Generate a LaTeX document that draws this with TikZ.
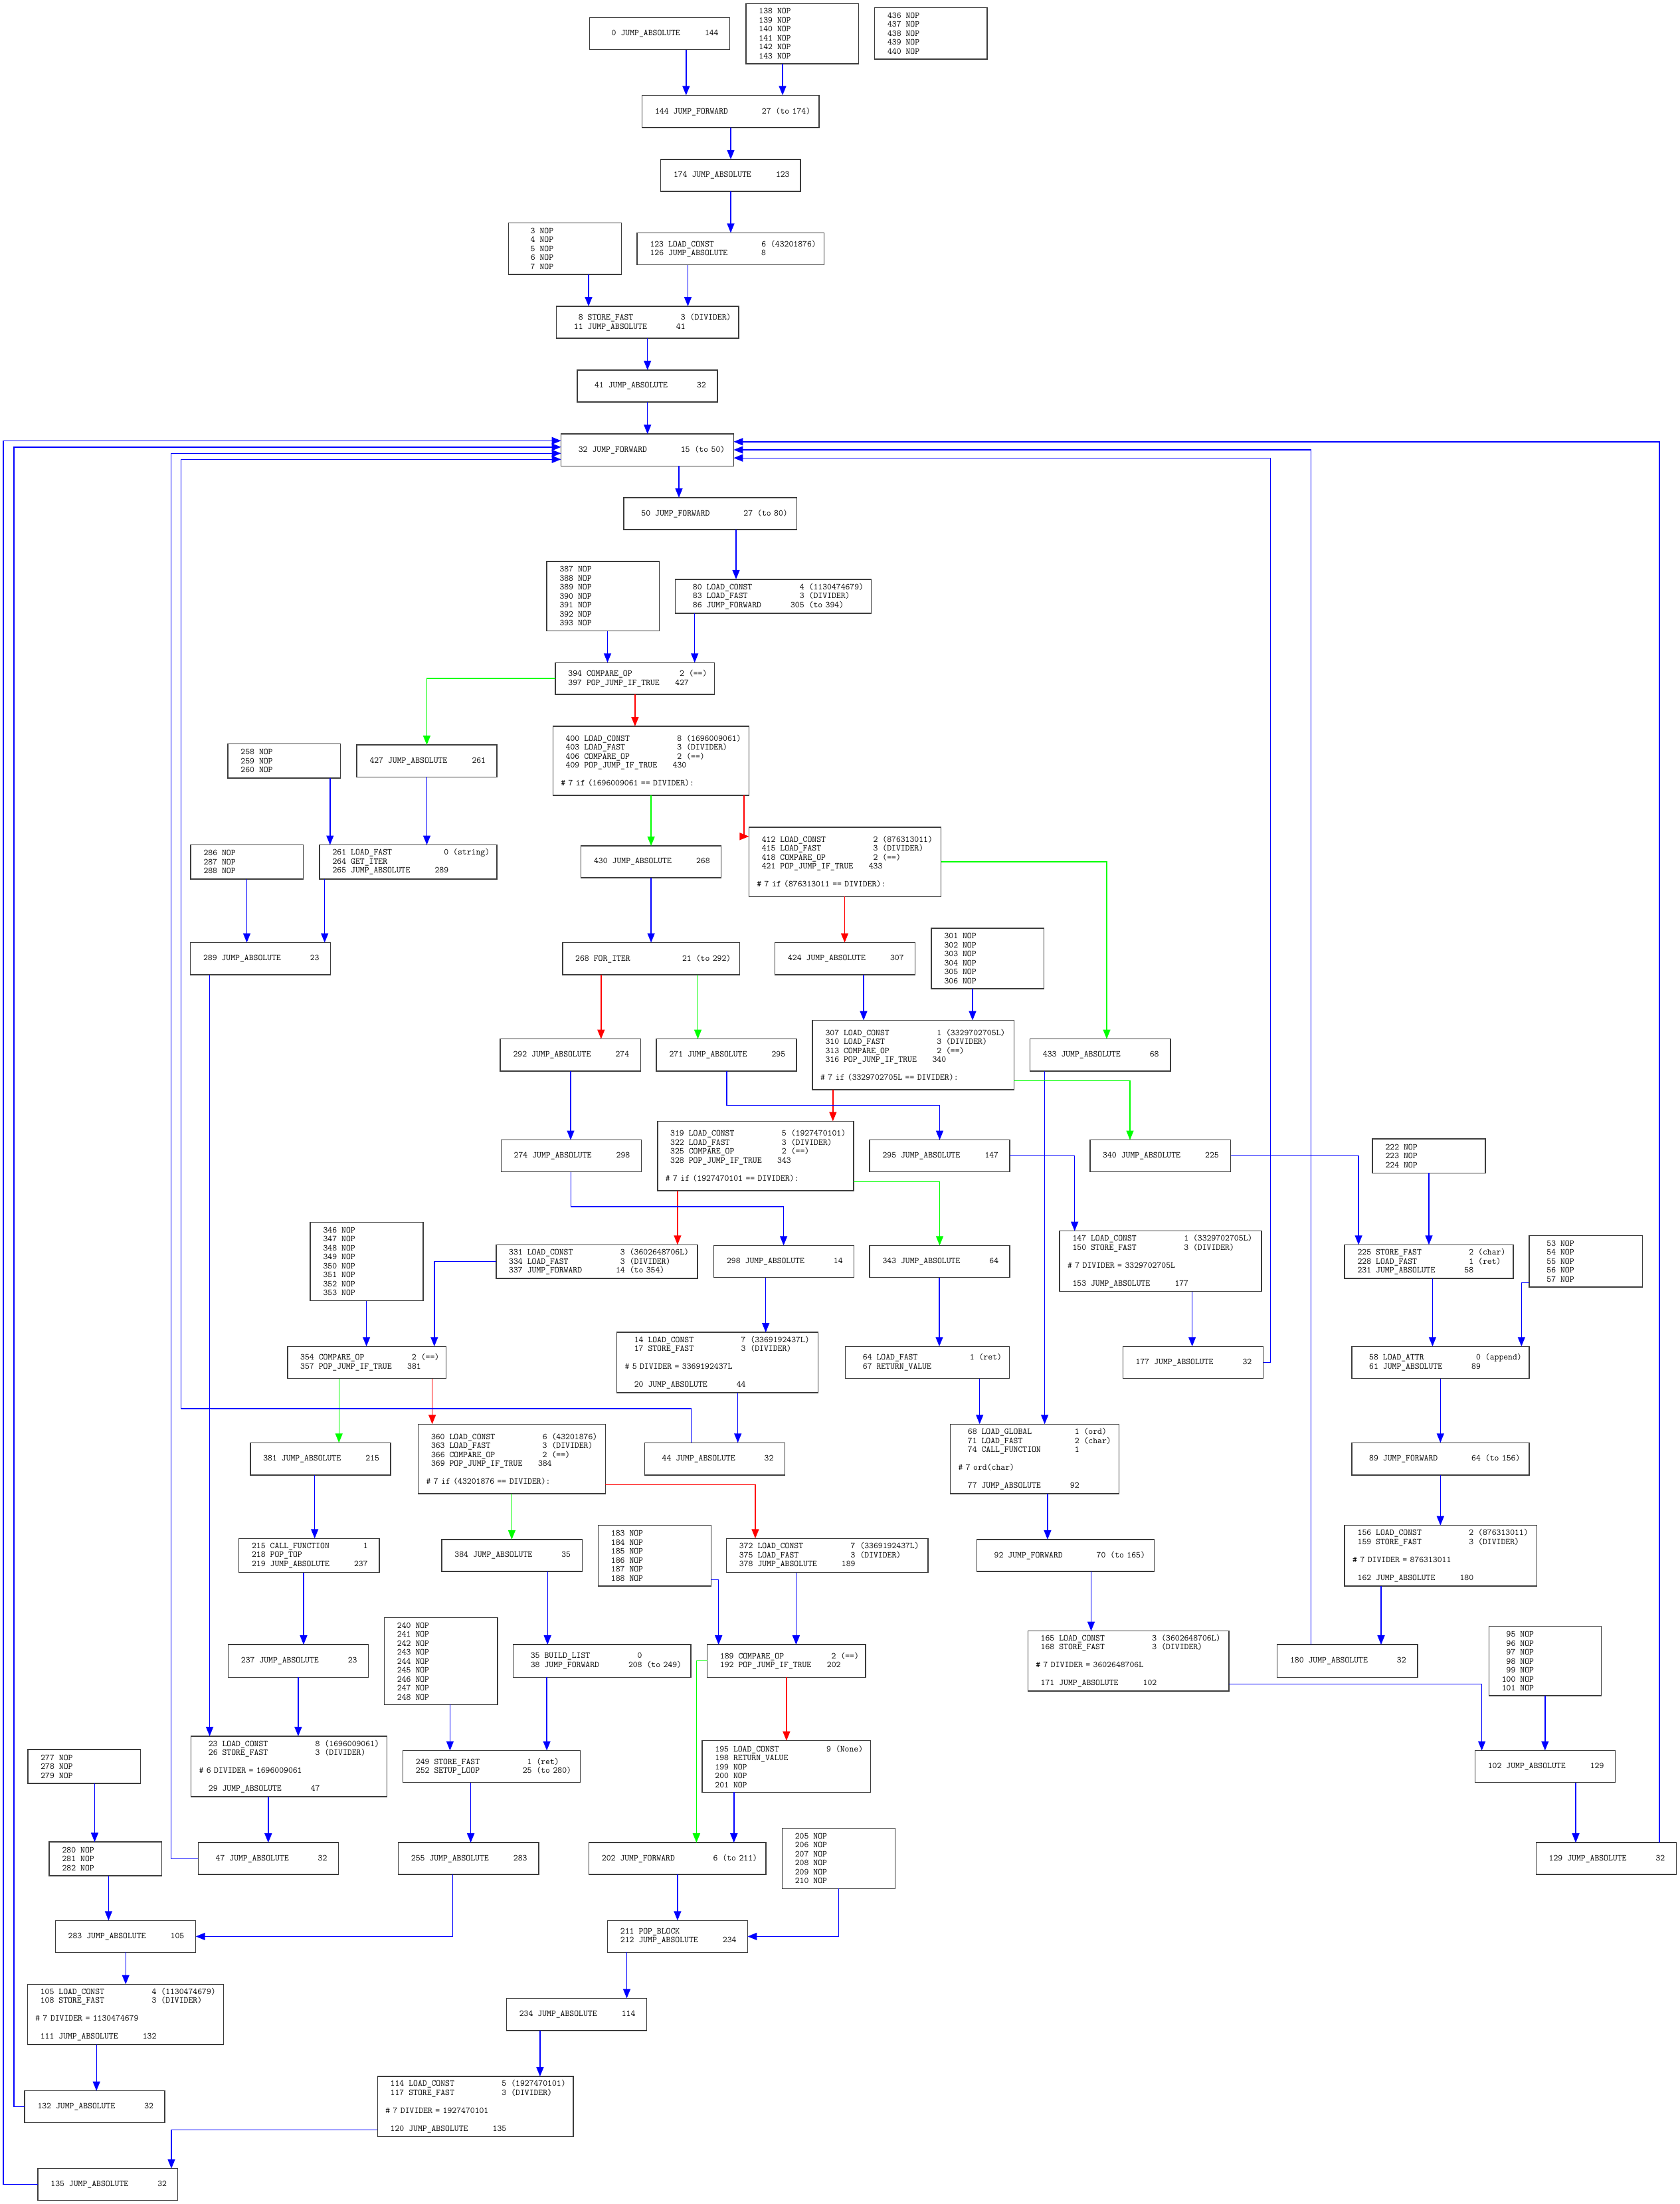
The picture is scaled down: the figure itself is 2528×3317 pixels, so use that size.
\documentclass[tikz,border=0pt]{standalone}
\usetikzlibrary{arrows.meta}
\definecolor{eblue}{RGB}{0,0,255}
\definecolor{egreen}{RGB}{0,255,0}
\definecolor{ered}{RGB}{255,0,0}
\definecolor{boxc}{RGB}{60,60,60}
\newlength\chw
\setlength\chw{7pt}
% one disassembly line: offset, opcode, argument, description
\newcommand\dOf[1]{\makebox[4\chw][r]{#1}\hspace*{\chw}}
\newcommand\dOp[4]{\mbox{\dOf{#1}\hbox to 21\chw{#2\hfill#3}\hspace*{\chw}(#4)}}
\newcommand\dOpA[3]{\mbox{\dOf{#1}\hbox to 21\chw{#2\hfill#3}}}
\newcommand\dOpN[2]{\mbox{\dOf{#1}#2}}
\newcommand\dOpJ[2]{\mbox{\dOf{#1}\hbox to 22\chw{POP\_JUMP\_IF\_TRUE\hfill#2}}}
\newcommand\dNop[1]{\mbox{\dOf{#1}NOP}}
\newcommand\dCm[1]{\mbox{\#~#1}}
\newcommand\dFont{\fontsize{13.33pt}{13.5pt}\selectfont\ttfamily\frenchspacing}
% block given by its corners (left, top, right, bottom)
\newcommand\blockbox[6]{%
  \pgfmathsetmacro\bxw{#4-#2-24}%
  \pgfmathsetmacro\bxh{#5-#3}%
  \node[blk, text width=\bxw pt, minimum height=\bxh pt] (#1) at (#2,#3) {#6};}
% straight vertical connector at a given x
\newcommand\vE[4]{\draw[#1] (#2.south -| #4,0) -- (#3.north -| #4,0);}
\tikzset{
  blk/.style={draw=boxc, line width=1.5pt, rectangle, inner xsep=12pt, inner ysep=0pt,
    outer sep=0pt, anchor=north west, align=left, font=\dFont},
  edge/.style={line width=1.4pt, -{Triangle[length=14pt,width=11pt]}},
  eb/.style={edge, draw=eblue},
  eg/.style={edge, draw=egreen},
  er/.style={edge, draw=ered},
}
\begin{document}
\begin{tikzpicture}[x=1pt,y=-1pt]
\fill[white] (0,0) rectangle (2528,3317);
\useasboundingbox (0,0) rectangle (2528,3317);

\blockbox{n0}{887.6}{26.5}{1098.4}{74.6}{\dOpA{0}{JUMP\_ABSOLUTE}{144}}
\blockbox{n138}{1123}{5.3}{1292.5}{95.8}{\dNop{138}\\\dNop{139}\\\dNop{140}\\\dNop{141}\\\dNop{142}\\\dNop{143}}
\blockbox{n436}{1316.6}{11.6}{1486}{88.9}{\dNop{436}\\\dNop{437}\\\dNop{438}\\\dNop{439}\\\dNop{440}}
\blockbox{n144}{966.7}{143.4}{1232.8}{192.1}{\dOp{144}{JUMP\_FORWARD}{27}{to 174}}
\blockbox{n174}{994.6}{239.8}{1204.8}{288.0}{\dOpA{174}{JUMP\_ABSOLUTE}{123}}
\blockbox{n123}{959.1}{350.4}{1240.3}{398.6}{\dOp{123}{LOAD\_CONST}{6}{43201876}\\\dOpA{126}{JUMP\_ABSOLUTE}{8}}
\blockbox{n3}{765.6}{335.6}{935.5}{412.9}{\dNop{3}\\\dNop{4}\\\dNop{5}\\\dNop{6}\\\dNop{7}}
\blockbox{n8}{837.7}{461.0}{1111.8}{509.2}{\dOp{8}{STORE\_FAST}{3}{DIVIDER}\\\dOpA{11}{JUMP\_ABSOLUTE}{41}}
\blockbox{n41}{868.8}{556.9}{1080.1}{605.0}{\dOpA{41}{JUMP\_ABSOLUTE}{32}}
\blockbox{n32}{844.6}{653.2}{1104.3}{701.4}{\dOp{32}{JUMP\_FORWARD}{15}{to 50}}
\blockbox{n50}{939.2}{749.0}{1199.5}{797.2}{\dOp{50}{JUMP\_FORWARD}{27}{to 80}}
\blockbox{n387}{823.1}{844.8}{992.5}{949.6}{\dNop{387}\\\dNop{388}\\\dNop{389}\\\dNop{390}\\\dNop{391}\\\dNop{392}\\\dNop{393}}
\blockbox{n80}{1016.7}{871.8}{1311.3}{923.2}{\dOp{80}{LOAD\_CONST}{4}{1130474679}\\\dOp{83}{LOAD\_FAST}{3}{DIVIDER}\\\dOp{86}{JUMP\_FORWARD}{305}{to 394}}
\blockbox{n394}{836.0}{997.3}{1075.3}{1044.9}{\dOp{394}{COMPARE\_OP}{2}{==}\\\dOpJ{397}{427}}
\blockbox{n427}{537.1}{1121.1}{747.8}{1169.3}{\dOpA{427}{JUMP\_ABSOLUTE}{261}}
\blockbox{n400}{832.3}{1093.1}{1127.4}{1196.8}{\dOp{400}{LOAD\_CONST}{8}{1696009061}\\\dOp{403}{LOAD\_FAST}{3}{DIVIDER}\\\dOp{406}{COMPARE\_OP}{2}{==}\\\dOpJ{409}{430}\\[13.5pt]\dCm{7 if (1696009061 == DIVIDER):}}
\blockbox{n258}{343.0}{1119.5}{512.4}{1170.9}{\dNop{258}\\\dNop{259}\\\dNop{260}}
\blockbox{n261}{481.2}{1271.5}{747.8}{1322.8}{\dOp{261}{LOAD\_FAST}{0}{string}\\\dOpN{264}{GET\_ITER}\\\dOpA{265}{JUMP\_ABSOLUTE}{289}}
\blockbox{n286}{287.1}{1271.5}{456.5}{1322.8}{\dNop{286}\\\dNop{287}\\\dNop{288}}
\blockbox{n289}{286.6}{1418.6}{497.3}{1466.8}{\dOpA{289}{JUMP\_ABSOLUTE}{23}}
\blockbox{n430}{874.7}{1273.0}{1085.5}{1321.2}{\dOpA{430}{JUMP\_ABSOLUTE}{268}}
\blockbox{n412}{1127.4}{1245.0}{1416.7}{1349.3}{\dOp{412}{LOAD\_CONST}{2}{876313011}\\\dOp{415}{LOAD\_FAST}{3}{DIVIDER}\\\dOp{418}{COMPARE\_OP}{2}{==}\\\dOpJ{421}{433}\\[13.5pt]\dCm{7 if (876313011 == DIVIDER):}}
\blockbox{n268}{846.8}{1418.6}{1113.4}{1466.8}{\dOp{268}{FOR\_ITER}{21}{to 292}}
\blockbox{n424}{1166.7}{1418.6}{1377.4}{1466.8}{\dOpA{424}{JUMP\_ABSOLUTE}{307}}
\blockbox{n301}{1402.1}{1396.9}{1571.5}{1488.0}{\dNop{301}\\\dNop{302}\\\dNop{303}\\\dNop{304}\\\dNop{305}\\\dNop{306}}
\blockbox{n292}{753.2}{1563.6}{964.5}{1611.8}{\dOpA{292}{JUMP\_ABSOLUTE}{274}}
\blockbox{n271}{988.2}{1563.6}{1198.9}{1611.8}{\dOpA{271}{JUMP\_ABSOLUTE}{295}}
\blockbox{n307}{1223.1}{1535.6}{1526.3}{1639.9}{\dOp{307}{LOAD\_CONST}{1}{3329702705L}\\\dOp{310}{LOAD\_FAST}{3}{DIVIDER}\\\dOp{313}{COMPARE\_OP}{2}{==}\\\dOpJ{316}{340}\\[13.5pt]\dCm{7 if (3329702705L == DIVIDER):}}
\blockbox{n433}{1550.5}{1563.6}{1761.8}{1611.8}{\dOpA{433}{JUMP\_ABSOLUTE}{68}}
\blockbox{n274}{754.3}{1715.6}{965.6}{1763.7}{\dOpA{274}{JUMP\_ABSOLUTE}{298}}
\blockbox{n319}{989.8}{1687.5}{1284.9}{1791.8}{\dOp{319}{LOAD\_CONST}{5}{1927470101}\\\dOp{322}{LOAD\_FAST}{3}{DIVIDER}\\\dOp{325}{COMPARE\_OP}{2}{==}\\\dOpJ{328}{343}\\[13.5pt]\dCm{7 if (1927470101 == DIVIDER):}}
\blockbox{n295}{1309.1}{1715.6}{1519.9}{1763.7}{\dOpA{295}{JUMP\_ABSOLUTE}{147}}
\blockbox{n340}{1640.8}{1715.6}{1852.7}{1763.7}{\dOpA{340}{JUMP\_ABSOLUTE}{225}}
\blockbox{n222}{2066.1}{1714.0}{2236.0}{1765.3}{\dNop{222}\\\dNop{223}\\\dNop{224}}
\blockbox{n346}{467.2}{1839.4}{637.1}{1957.5}{\dNop{346}\\\dNop{347}\\\dNop{348}\\\dNop{349}\\\dNop{350}\\\dNop{351}\\\dNop{352}\\\dNop{353}}
\blockbox{n331}{746.8}{1873.3}{1050.0}{1924.1}{\dOp{331}{LOAD\_CONST}{3}{3602648706L}\\\dOp{334}{LOAD\_FAST}{3}{DIVIDER}\\\dOp{337}{JUMP\_FORWARD}{14}{to 354}}
\blockbox{n298}{1074.7}{1874.4}{1285.5}{1922.5}{\dOpA{298}{JUMP\_ABSOLUTE}{14}}
\blockbox{n343}{1309.1}{1874.4}{1519.9}{1922.5}{\dOpA{343}{JUMP\_ABSOLUTE}{64}}
\blockbox{n147}{1595.1}{1852.7}{1898.9}{1943.7}{\dOp{147}{LOAD\_CONST}{1}{3329702705L}\\\dOp{150}{STORE\_FAST}{3}{DIVIDER}\\[13.5pt]\dCm{7 DIVIDER = 3329702705L}\\[13.5pt]\dOpA{153}{JUMP\_ABSOLUTE}{177}}
\blockbox{n225}{2024.2}{1873.3}{2277.9}{1924.1}{\dOp{225}{STORE\_FAST}{2}{char}\\\dOp{228}{LOAD\_FAST}{1}{ret}\\\dOpA{231}{JUMP\_ABSOLUTE}{58}}
\blockbox{n53}{2302.1}{1859.6}{2472.5}{1936.8}{\dNop{53}\\\dNop{54}\\\dNop{55}\\\dNop{56}\\\dNop{57}}
\blockbox{n354}{432.8}{2026.3}{671.5}{2074.5}{\dOp{354}{COMPARE\_OP}{2}{==}\\\dOpJ{357}{381}}
\blockbox{n14}{928.5}{2005.1}{1231.7}{2096.2}{\dOp{14}{LOAD\_CONST}{7}{3369192437L}\\\dOp{17}{STORE\_FAST}{3}{DIVIDER}\\[13.5pt]\dCm{5 DIVIDER = 3369192437L}\\[13.5pt]\dOpA{20}{JUMP\_ABSOLUTE}{44}}
\blockbox{n64}{1272.6}{2026.3}{1519.4}{2074.5}{\dOp{64}{LOAD\_FAST}{1}{ret}\\\dOpN{67}{RETURN\_VALUE}}
\blockbox{n177}{1690.3}{2026.3}{1901.6}{2074.5}{\dOpA{177}{JUMP\_ABSOLUTE}{32}}
\blockbox{n58}{2034.9}{2026.3}{2302.1}{2074.5}{\dOp{58}{LOAD\_ATTR}{0}{append}\\\dOpA{61}{JUMP\_ABSOLUTE}{89}}
\blockbox{n381}{376.9}{2171.3}{588.2}{2220.0}{\dOpA{381}{JUMP\_ABSOLUTE}{215}}
\blockbox{n360}{629.6}{2143.3}{911.3}{2248.1}{\dOp{360}{LOAD\_CONST}{6}{43201876}\\\dOp{363}{LOAD\_FAST}{3}{DIVIDER}\\\dOp{366}{COMPARE\_OP}{2}{==}\\\dOpJ{369}{384}\\[13.5pt]\dCm{7 if (43201876 == DIVIDER):}}
\blockbox{n44}{970.4}{2171.3}{1181.7}{2220.0}{\dOpA{44}{JUMP\_ABSOLUTE}{32}}
\blockbox{n68}{1430.6}{2143.3}{1684.4}{2248.1}{\dOp{68}{LOAD\_GLOBAL}{1}{ord}\\\dOp{71}{LOAD\_FAST}{2}{char}\\\dOpA{74}{CALL\_FUNCTION}{1}\\[13.5pt]\dCm{7 ord(char)}\\[13.5pt]\dOpA{77}{JUMP\_ABSOLUTE}{92}}
\blockbox{n89}{2034.9}{2171.3}{2302.1}{2220.0}{\dOp{89}{JUMP\_FORWARD}{64}{to 156}}
\blockbox{n215}{359.7}{2315.3}{571.0}{2366.7}{\dOpA{215}{CALL\_FUNCTION}{1}\\\dOpN{218}{POP\_TOP}\\\dOpA{219}{JUMP\_ABSOLUTE}{237}}
\blockbox{n384}{665.0}{2316.9}{876.3}{2365.1}{\dOpA{384}{JUMP\_ABSOLUTE}{35}}
\blockbox{n183}{900.5}{2295.7}{1070.4}{2386.8}{\dNop{183}\\\dNop{184}\\\dNop{185}\\\dNop{186}\\\dNop{187}\\\dNop{188}}
\blockbox{n372}{1093.5}{2315.3}{1396.8}{2366.7}{\dOp{372}{LOAD\_CONST}{7}{3369192437L}\\\dOp{375}{LOAD\_FAST}{3}{DIVIDER}\\\dOpA{378}{JUMP\_ABSOLUTE}{189}}
\blockbox{n92}{1470.4}{2316.9}{1737.6}{2365.1}{\dOp{92}{JUMP\_FORWARD}{70}{to 165}}
\blockbox{n156}{2024.2}{2295.7}{2313.4}{2386.8}{\dOp{156}{LOAD\_CONST}{2}{876313011}\\\dOp{159}{STORE\_FAST}{3}{DIVIDER}\\[13.5pt]\dCm{7 DIVIDER = 876313011}\\[13.5pt]\dOpA{162}{JUMP\_ABSOLUTE}{180}}
\blockbox{n237}{343.5}{2475.2}{554.3}{2524.3}{\dOpA{237}{JUMP\_ABSOLUTE}{23}}
\blockbox{n240}{578.5}{2434.4}{748.9}{2565.4}{\dNop{240}\\\dNop{241}\\\dNop{242}\\\dNop{243}\\\dNop{244}\\\dNop{245}\\\dNop{246}\\\dNop{247}\\\dNop{248}}
\blockbox{n35}{772.6}{2475.2}{1039.8}{2524.3}{\dOpA{35}{BUILD\_LIST}{0}\\\dOp{38}{JUMP\_FORWARD}{208}{to 249}}
\blockbox{n189}{1064.5}{2475.2}{1303.2}{2524.3}{\dOp{189}{COMPARE\_OP}{2}{==}\\\dOpJ{192}{202}}
\blockbox{n165}{1547.3}{2454.5}{1850.0}{2544.9}{\dOp{165}{LOAD\_CONST}{3}{3602648706L}\\\dOp{168}{STORE\_FAST}{3}{DIVIDER}\\[13.5pt]\dCm{7 DIVIDER = 3602648706L}\\[13.5pt]\dOpA{171}{JUMP\_ABSOLUTE}{102}}
\blockbox{n180}{1922.6}{2475.2}{2133.8}{2524.3}{\dOpA{180}{JUMP\_ABSOLUTE}{32}}
\blockbox{n95}{2241.4}{2447.6}{2410.7}{2552.2}{\dNop{95}\\\dNop{96}\\\dNop{97}\\\dNop{98}\\\dNop{99}\\\dNop{100}\\\dNop{101}}
\blockbox{n23}{287.6}{2612.9}{582.3}{2704.1}{\dOp{23}{LOAD\_CONST}{8}{1696009061}\\\dOp{26}{STORE\_FAST}{3}{DIVIDER}\\[13.5pt]\dCm{6 DIVIDER = 1696009061}\\[13.5pt]\dOpA{29}{JUMP\_ABSOLUTE}{47}}
\blockbox{n277}{41.9}{2632.9}{211.3}{2684.1}{\dNop{277}\\\dNop{278}\\\dNop{279}}
\blockbox{n249}{606.5}{2634.5}{873.6}{2682.5}{\dOp{249}{STORE\_FAST}{1}{ret}\\\dOp{252}{SETUP\_LOOP}{25}{to 280}}
\blockbox{n195}{1057.0}{2619.7}{1310.7}{2697.3}{\dOp{195}{LOAD\_CONST}{9}{None}\\\dOpN{198}{RETURN\_VALUE}\\\dNop{199}\\\dNop{200}\\\dNop{201}}
\blockbox{n102}{2220.4}{2634.5}{2431.7}{2682.5}{\dOpA{102}{JUMP\_ABSOLUTE}{129}}
\blockbox{n280}{74.2}{2772.2}{243.5}{2822.8}{\dNop{280}\\\dNop{281}\\\dNop{282}}
\blockbox{n47}{298.4}{2773.2}{509.7}{2821.2}{\dOpA{47}{JUMP\_ABSOLUTE}{32}}
\blockbox{n255}{599.5}{2773.2}{810.8}{2821.2}{\dOpA{255}{JUMP\_ABSOLUTE}{283}}
\blockbox{n202}{886.5}{2773.2}{1153.2}{2821.2}{\dOp{202}{JUMP\_FORWARD}{6}{to 211}}
\blockbox{n205}{1177.4}{2751.6}{1347.3}{2842.3}{\dNop{205}\\\dNop{206}\\\dNop{207}\\\dNop{208}\\\dNop{209}\\\dNop{210}}
\blockbox{n129}{2312.3}{2773.2}{2523.6}{2821.2}{\dOpA{129}{JUMP\_ABSOLUTE}{32}}
\blockbox{n283}{83.3}{2890.3}{294.6}{2938.3}{\dOpA{283}{JUMP\_ABSOLUTE}{105}}
\blockbox{n211}{914.5}{2890.3}{1125.3}{2938.3}{\dOpN{211}{POP\_BLOCK}\\\dOpA{212}{JUMP\_ABSOLUTE}{234}}
\blockbox{n105}{41.4}{2986.3}{336.6}{3077.0}{\dOp{105}{LOAD\_CONST}{4}{1130474679}\\\dOp{108}{STORE\_FAST}{3}{DIVIDER}\\[13.5pt]\dCm{7 DIVIDER = 1130474679}\\[13.5pt]\dOpA{111}{JUMP\_ABSOLUTE}{132}}
\blockbox{n234}{762.4}{3007.4}{973.6}{3055.9}{\dOpA{234}{JUMP\_ABSOLUTE}{114}}
\blockbox{n114}{568.3}{3125.0}{862.9}{3215.7}{\dOp{114}{LOAD\_CONST}{5}{1927470101}\\\dOp{117}{STORE\_FAST}{3}{DIVIDER}\\[13.5pt]\dCm{7 DIVIDER = 1927470101}\\[13.5pt]\dOpA{120}{JUMP\_ABSOLUTE}{135}}
\blockbox{n132}{37.1}{3146.6}{247.8}{3194.6}{\dOpA{132}{JUMP\_ABSOLUTE}{32}}
\blockbox{n135}{57.0}{3263.7}{267.7}{3311.7}{\dOpA{135}{JUMP\_ABSOLUTE}{32}}

% unconditional jumps and fall-through
\vE{eb}{n0}{n144}{1032.8}
\vE{eb}{n138}{n144}{1178}
\vE{eb}{n144}{n174}{1100}
\vE{eb}{n174}{n123}{1100}
\vE{eb}{n123}{n8}{1035.5}
\vE{eb}{n3}{n8}{886}
\vE{eb}{n8}{n41}{974.7}
\vE{eb}{n41}{n32}{974.7}
\vE{eb}{n32}{n50}{1022}
\vE{eb}{n50}{n80}{1108}
\vE{eb}{n387}{n394}{914.5}
\vE{eb}{n80}{n394}{1045.7}
\vE{eb}{n258}{n261}{496.8}
\vE{eb}{n427}{n261}{642.5}
\vE{eb}{n286}{n289}{371.5}
\vE{eb}{n261}{n289}{488.7}
\vE{eb}{n430}{n268}{980.1}
\vE{eb}{n424}{n307}{1300}
\vE{eb}{n301}{n307}{1464}
\vE{eb}{n289}{n23}{315.6}
\vE{eb}{n292}{n274}{859}
\vE{eb}{n298}{n14}{1152.7}
\vE{eb}{n343}{n64}{1414}
\vE{eb}{n147}{n177}{1794.6}
\vE{eb}{n222}{n225}{2151}
\vE{eb}{n346}{n354}{551.6}
\vE{eb}{n225}{n58}{2156.4}
\vE{eb}{n58}{n89}{2168.3}
\vE{eb}{n89}{n156}{2168.3}
\vE{eb}{n156}{n180}{2079}
\vE{eb}{n14}{n44}{1110.7}
\vE{eb}{n433}{n68}{1572.6}
\vE{eb}{n64}{n68}{1474.7}
\vE{eb}{n68}{n92}{1576.9}
\vE{eb}{n92}{n165}{1642.5}
\vE{eb}{n95}{n102}{2325.8}
\vE{eb}{n102}{n129}{2372}
\vE{eb}{n381}{n215}{473.7}
\vE{eb}{n384}{n35}{824.2}
\vE{eb}{n372}{n189}{1198.4}
\vE{eb}{n215}{n237}{457}
\vE{eb}{n237}{n23}{448.9}
\vE{eb}{n240}{n249}{677.4}
\vE{eb}{n35}{n249}{823.1}
\vE{eb}{n23}{n47}{403.8}
\vE{eb}{n277}{n280}{142.5}
\vE{eb}{n249}{n255}{708.6}
\vE{eb}{n280}{n283}{163.4}
\vE{eb}{n283}{n105}{189.2}
\vE{eb}{n105}{n132}{145.2}
\vE{eb}{n195}{n202}{1104.8}
\vE{eb}{n202}{n211}{1019.9}
\vE{eb}{n211}{n234}{943.5}
\vE{eb}{n234}{n114}{812.9}

% taken branches
\vE{eg}{n400}{n430}{980.1}
\vE{eg}{n268}{n271}{1050.5}
\vE{eg}{n354}{n381}{510.2}
\vE{eg}{n360}{n384}{770.4}
% not-taken branches
\vE{er}{n394}{n400}{955.9}
\vE{er}{n412}{n424}{1271.5}
\vE{er}{n268}{n292}{904.8}
\vE{er}{n307}{n319}{1253.8}
\vE{er}{n319}{n331}{1019.9}
\vE{er}{n354}{n360}{650.6}
\vE{er}{n189}{n195}{1183.9}

% elbow connectors
\draw[eg] (n394.west) -| (n427.north);
\draw[er] (n400.south -| 1119.9,0) |- (n412.west |- 0,1258.8);
\draw[eg] (n412.east) -| (n433.north -| 1666,0);
\draw[eb] (n271.south -| 1094,0) |- (1414.5,1663.7) -- (n295.north);
\draw[eg] (n307.east |- 0,1626.6) -| (n340.north -| 1701,0);
\draw[eb] (n274.south -| 859.7,0) |- (1179.6,1816.1) -- (n298.north -| 1179.6,0);
\draw[eg] (n319.east |- 0,1778.6) -| (n343.north);
\draw[eb] (n295.east) -| (n147.north -| 1617.7,0);
\draw[eb] (n340.east) -| (n225.north -| 2045.1,0);
\draw[eb] (n331.west) -| (n354.north -| 653.8,0);
\draw[eb] (n53.west |- 0,1930.5) -| (n58.north -| 2290.3,0);
\draw[er] (n360.east |- 0,2234.3) -| (n372.north -| 1137,0);
\draw[eb] (n183.east |- 0,2377.3) -| (n189.north -| 1081.7,0);
\draw[eg] (n189.west) -| (n202.north -| 1048.4,0);
\draw[eb] (n255.south -| 681.7,0) |- (n283.east);
\draw[eb] (n205.south -| 1262.4,0) |- (n211.east);
\draw[eb] (n165.east |- 0,2534.3) -| (n102.north -| 2230.6,0);
\draw[eb] (n114.west |- 0,3205.2) -| (n135.north -| 258,0);

% back edges into block 32
\draw[eb] (n177.east) -| (1912.3,689.2) -- (n32.east |- 0,689.2);
\draw[eb] (n180.north -| 1973.6,0) |- (n32.east |- 0,677);
\draw[eb] (n129.north -| 2497.8,0) |- (n32.east |- 0,664.8);
\draw[eb] (n44.north -| 1040.3,0) |- (272.6,2120) |- (n32.west |- 0,691.3);
\draw[eb] (n47.west) -| (257.5,682.3) -- (n32.west |- 0,682.3);
\draw[eb] (n132.west) -| (21,672.8) -- (n32.west |- 0,672.8);
\draw[eb] (n135.west) -| (4.8,663.3) -- (n32.west |- 0,663.3);
\end{tikzpicture}
\end{document}
